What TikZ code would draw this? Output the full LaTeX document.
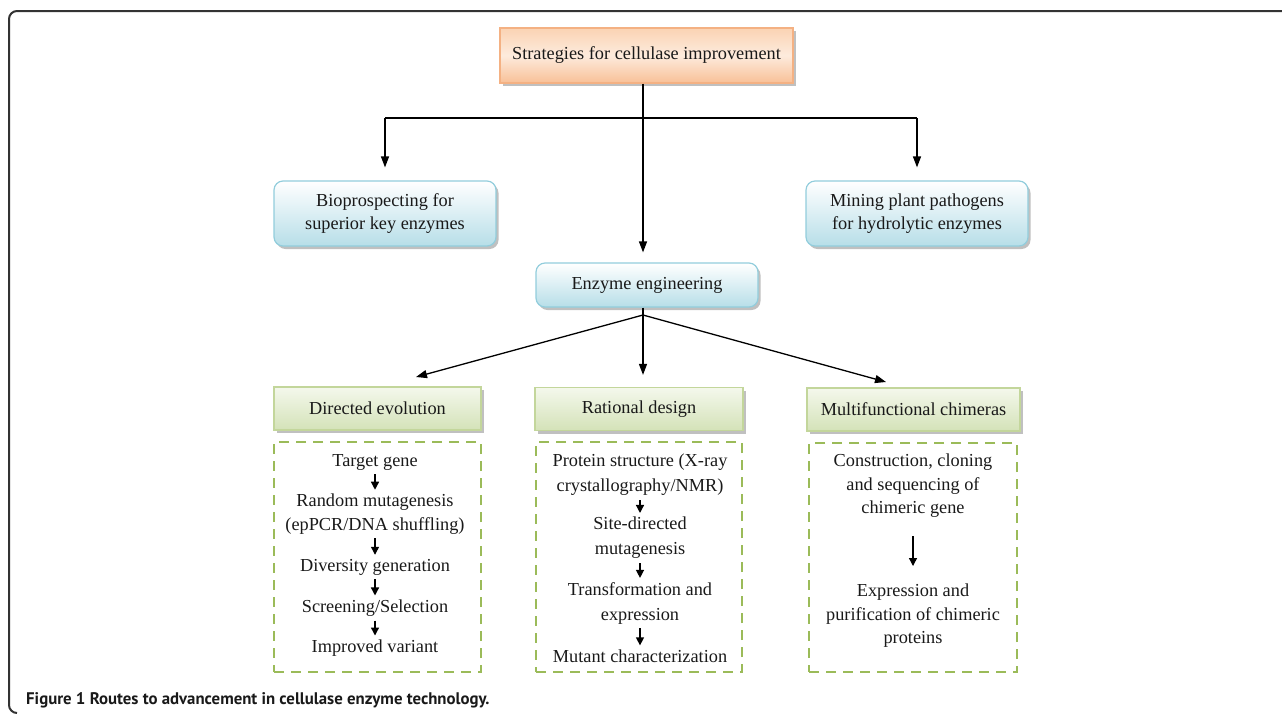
\documentclass[tikz,border=0pt]{standalone}
\usepackage{fontspec}
\setmainfont{Liberation Serif}
\newfontfamily\capfont{PT Sans}
\usetikzlibrary{arrows.meta,shadows,calc}
\definecolor{orbd}{HTML}{F4B183}
\definecolor{ortop}{HTML}{FBD3B3}
\definecolor{ormid}{HTML}{FDEBDD}
\definecolor{orbot}{HTML}{F8C097}
\definecolor{bluebd}{HTML}{92CDDC}
\definecolor{bluebot}{HTML}{B7DEE8}
\definecolor{grbd}{HTML}{C3D69B}
\definecolor{grtop}{HTML}{F4F8EC}
\definecolor{grbot}{HTML}{D4E2B8}
\definecolor{grdash}{HTML}{9BBB59}
\definecolor{framec}{HTML}{333333}
\begin{document}
\begin{tikzpicture}[x=1pt,y=1pt,
  base/.style={font=\fontsize{18.3}{23.5}\selectfont, align=center, inner sep=0pt, text=black!90},
  shad/.style={drop shadow={shadow xshift=2.5pt,shadow yshift=-3pt,fill=black!45,opacity=0.55}},
  orangebox/.style={base, shad, draw=orbd, line width=1.2pt, top color=ortop, bottom color=orbot, middle color=ormid, minimum width=293pt, minimum height=55pt},
  bluebox/.style={base, shad, rounded corners=9pt, draw=bluebd, line width=1.2pt, top color=white, bottom color=bluebot, minimum width=222pt},
  greenbox/.style={base, shad, draw=grbd, line width=1.2pt, top color=grtop, bottom color=grbot, minimum height=43pt},
  dashbox/.style={draw=grdash, line width=2.8pt, dash pattern=on 10pt off 7pt, minimum height=230pt},
  conn/.style={line width=1.3pt, black},
  arr/.style={conn, -{Triangle[width=8pt,length=11pt]}},
  sarr/.style={conn, -{Triangle[width=8pt,length=8pt]}, shorten <=4pt, shorten >=4pt},
  inner/.style={base}
]
\useasboundingbox (0,0) rectangle (1282,-716);
% frame
\draw[framec, line width=2pt, rounded corners=8pt] (17,-713) -- (9,-713) -- (9,-11) -- (1282,-11);

% top level
\node[orangebox] (top) at (646.5,-55.5) {Strategies for cellulase improvement};
\node[bluebox, minimum height=65pt] (bio) at (385,-213.5) {Bioprospecting for\\superior key enzymes};
\node[bluebox, minimum height=65pt] (mine) at (917,-213.5) {Mining plant pathogens\\for hydrolytic enzymes};
\node[bluebox, minimum height=44pt] (enz) at (647,-285) {Enzyme engineering};

\coordinate (hsplit) at (643,-118);
\draw[conn] (top.south -| hsplit) -- (hsplit);
\draw[conn] (hsplit -| bio.north) -- (hsplit -| mine.north);
\draw[arr, shorten >=13pt] (hsplit -| bio.north) -- (bio.north);
\draw[arr, shorten >=13pt] (hsplit -| mine.north) -- (mine.north);
\draw[arr, shorten >=10pt] (hsplit) -- (hsplit |- enz.north);

% second level
\node[greenbox, minimum width=207pt] (de) at (377.5,-408.5) {Directed evolution};
\node[greenbox, minimum width=208pt] (rd) at (639,-409) {Rational design};
\node[greenbox, minimum width=213pt] (mc) at (913.5,-409.5) {Multifunctional chimeras};

\coordinate (esplit) at (643,-315);
\coordinate (detip) at (416,-377);
\coordinate (mctip) at (886,-382);
\draw[conn] (enz.south -| esplit) -- (esplit);
\draw[arr] (esplit) -- (detip);
\draw[arr] (esplit) -- (mctip);
\draw[arr, shorten >=12pt] (esplit) -- (esplit |- rd.north);

% dashed boxes
\node[dashbox, minimum width=207pt] (ded) at (377.5,-557) {};
\node[dashbox, minimum width=206pt] (rdd) at (639,-557) {};
\node[dashbox, minimum width=208pt, minimum height=229pt] (mcd) at (913,-557.5) {};

% directed evolution steps
\node[inner] (d1) at (375,-462) {Target gene};
\node[inner] (d2) at (375,-514) {Random mutagenesis\\(epPCR/DNA shuffling)};
\node[inner] (d3) at (375,-567) {Diversity generation};
\node[inner] (d4) at (375,-608) {Screening/Selection};
\node[inner] (d5) at (375,-648) {Improved variant};
\draw[sarr] (d1) -- (d2);
\draw[sarr] (d2) -- (d3);
\draw[sarr] (d3) -- (d4);
\draw[sarr] (d4) -- (d5);

% rational design steps
\node[inner, font=\fontsize{18.3}{25}\selectfont] (r1) at (640,-475) {Protein structure (X-ray\\crystallography/NMR)};
\node[inner, font=\fontsize{18.3}{25}\selectfont] (r2) at (640,-538) {Site-directed\\mutagenesis};
\node[inner, font=\fontsize{18.3}{25}\selectfont] (r3) at (640,-603) {Transformation and\\expression};
\node[inner] (r4) at (640,-656) {Mutant characterization};
\draw[sarr] (r1) -- (r2);
\draw[sarr] (r2) -- (r3);
\draw[sarr] (r3) -- (r4);

% chimeras steps
\node[inner] (m1) at (913,-486) {Construction, cloning\\and sequencing of\\chimeric gene};
\node[inner] (m2) at (913,-616) {Expression and\\purification of chimeric\\proteins};
\draw[sarr, shorten <=18pt, shorten >=18pt] (m1) -- (m2);

% caption
\node[anchor=base west, inner sep=0pt, font=\capfont\fontsize{16.8}{20}\selectfont, text=black!90] (cap) at (26,-704) {\textbf{Figure 1 Routes to advancement in cellulase enzyme technology.}};
\end{tikzpicture}
\end{document}
